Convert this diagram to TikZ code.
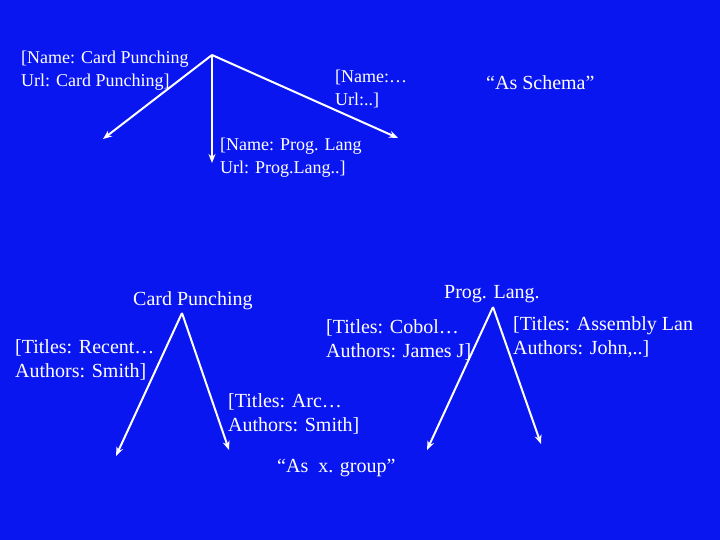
\documentclass[tikz,border=0pt]{standalone}
\usepackage{fontspec}
\setmainfont{Liberation Serif}
\usetikzlibrary{arrows.meta}
\definecolor{bgblue}{RGB}{10,22,240}
\begin{document}
\begin{tikzpicture}[x=1pt,y=-1pt,
  lbl/.style={text=white,inner sep=0pt,anchor=north west,align=left,font=\fontsize{18}{22.5}\selectfont},
  big/.style={lbl,font=\fontsize{20}{24}\selectfont},
  arr/.style={draw=white,line width=2pt,-{Stealth[length=9pt,width=7pt]}}]
\fill[bgblue] (0,0) rectangle (720,540);
\useasboundingbox (0,0) rectangle (720,540);
% top tree
\coordinate (ta) at (212,55);
\coordinate (t1) at (103,139);
\coordinate (t2) at (212,163);
\coordinate (t3) at (398,138);
\draw[arr] (ta) -- (t1);
\draw[arr] (ta) -- (t2);
\draw[arr] (ta) -- (t3);
\node[lbl] (n1) at (21,51) {[Name: Card Punching\\Url: Card Punching]};
\node[lbl] (n2) at (335,70) {[Name:\dots\\Url:..]};
\node[lbl] (n3) at (220,138) {[Name: Prog. Lang\\Url: Prog.Lang..]};
\node[big] (s1) at (486,75.5) {“As Schema”};
% lower left tree
\node[big] (cp) at (133,291.5) {Card Punching};
\coordinate (la) at (182,313);
\coordinate (l1) at (116,456);
\coordinate (l2) at (229,450);
\draw[arr] (la) -- (l1);
\draw[arr] (la) -- (l2);
\node[big] (r1) at (15,339.5) {[Titles: Recent\dots\\Authors: Smith]};
\node[big] (r2) at (228,393.5) {[Titles: Arc\dots\\Authors: Smith]};
% lower right tree
\node[big] (pl) at (444,285.5) {Prog. Lang.};
\coordinate (ra) at (493,307);
\coordinate (r1e) at (427,450);
\coordinate (r2e) at (541,444);
\draw[arr] (ra) -- (r1e);
\draw[arr] (ra) -- (r2e);
\node[big] (c1) at (326,319.5) {[Titles: Cobol\dots\\Authors: James J]};
\node[big] (c2) at (513,316.5) {[Titles: Assembly Lan\\Authors: John,..]};
\node[big] (s2) at (277,458.5) {“As\ \ x. group”};
\end{tikzpicture}
\end{document}
